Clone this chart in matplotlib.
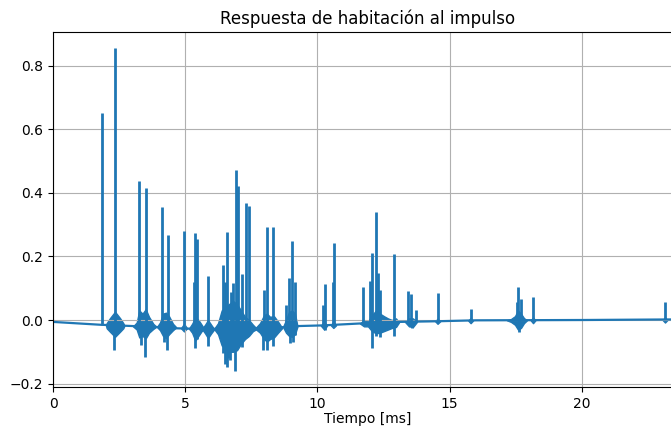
import numpy as np
import matplotlib
matplotlib.use('Agg')
import matplotlib.pyplot as plt

# deriva de la linea base (ms, amplitud)
base_t = [0, 1.8, 2.7, 3.9, 4.6, 5.5, 6.2, 7.7, 8.6, 9.3, 10.2, 11.6, 13.1, 14.5, 16.0, 20.0, 23.82]
base_v = [-0.006, -0.015, -0.018, -0.022, -0.026, -0.028, -0.028, -0.027, -0.023, -0.019, -0.017,
          -0.011, -0.006, -0.004, -0.001, 0.0, 0.002]

# picos positivos (reflexiones)
spike_t = [1.864, 2.344, 3.263, 3.505, 4.110, 4.337, 4.953, 5.342, 5.380, 5.456, 5.860,
           6.427, 6.503, 6.590, 6.730, 6.817, 6.907, 7.006, 7.157, 7.297, 7.410,
           7.977, 8.079, 8.329, 8.820, 8.911, 9.025, 9.149,
           10.219, 10.284, 10.575, 10.635, 11.739, 12.004, 12.068, 12.212, 12.299, 12.382,
           12.892, 13.433, 13.554, 13.713, 14.544, 15.792, 17.554, 17.592, 17.682, 18.147, 23.138]
spike_v = [0.652, 0.857, 0.439, 0.417, 0.355, 0.267, 0.281, 0.120, 0.273, 0.254, 0.139,
           0.172, 0.120, 0.278, 0.089, 0.118, 0.472, 0.422, 0.144, 0.369, 0.360,
           0.094, 0.292, 0.292, 0.047, 0.131, 0.250, 0.120,
           0.048, 0.114, 0.119, 0.243, 0.104, 0.123, 0.210, 0.341, 0.149, 0.093,
           0.207, 0.091, 0.082, 0.030, 0.084, 0.034, 0.058, 0.105, 0.065, 0.071, 0.056]

# picos negativos
dip_t = [2.318, 3.316, 3.478, 4.197, 4.299, 5.380, 5.440, 5.872, 6.378, 6.439, 6.503, 6.567,
         6.628, 6.692, 6.756, 6.881, 7.134, 7.323, 7.928, 8.102, 8.306, 8.960, 9.085, 9.149,
         10.283, 12.049, 12.212, 12.363, 12.904, 13.561, 17.630]
dip_v = [-0.096, -0.079, -0.116, -0.068, -0.094, -0.088, -0.060, -0.082, -0.074, -0.105, -0.137, -0.147,
         -0.121, -0.126, -0.094, -0.160, -0.084, -0.053, -0.094, -0.094, -0.082, -0.071, -0.070, -0.047,
         -0.031, -0.089, -0.050, -0.053, -0.050, -0.024, -0.037]

# zonas de oscilacion alrededor de las reflexiones
blob_t = [
    [2.00, 2.03, 2.155, 2.344, 2.533, 2.658, 2.70],
    [3.025, 3.164, 3.263, 3.384, 3.505, 3.63, 3.792, 3.894],
    [3.93, 4.045, 4.159, 4.272, 4.386, 4.537, 4.65],
    [4.84, 4.953, 5.07],
    [5.14, 5.26, 5.38, 5.5, 5.62, 5.71],
    [5.63, 5.75, 5.86, 5.98, 6.09],
    [6.09, 6.24, 6.378, 6.503, 6.654, 6.805, 6.957, 7.108, 7.259, 7.41, 7.56, 7.713],
    [7.637, 7.826, 7.977, 8.09, 8.204, 8.355, 8.507, 8.658],
    [8.696, 8.81, 8.923, 9.036, 9.149, 9.244],
    [10.13, 10.25, 10.36],
    [10.51, 10.6, 10.7],
    [11.607, 11.758, 11.909, 12.06, 12.212, 12.363, 12.514, 12.665, 12.817, 12.968, 13.08],
    [13.308, 13.46, 13.61, 13.762],
    [14.45, 14.54, 14.64],
    [15.7, 15.79, 15.88],
    [17.164, 17.316, 17.467, 17.58, 17.694, 17.807, 17.921],
    [18.06, 18.15, 18.24],
    [23.05, 23.14, 23.23],
]
blob_lo = [
    [-0.016, -0.026, -0.037, -0.053, -0.037, -0.026, -0.018],
    [-0.020, -0.030, -0.055, -0.050, -0.058, -0.040, -0.028, -0.022],
    [-0.022, -0.032, -0.050, -0.057, -0.045, -0.032, -0.024],
    [-0.026, -0.036, -0.026],
    [-0.027, -0.040, -0.065, -0.050, -0.035, -0.028],
    [-0.028, -0.042, -0.057, -0.042, -0.030],
    [-0.028, -0.045, -0.080, -0.090, -0.100, -0.100, -0.095, -0.075, -0.060, -0.050, -0.035, -0.028],
    [-0.027, -0.040, -0.060, -0.068, -0.060, -0.055, -0.040, -0.026],
    [-0.022, -0.040, -0.050, -0.053, -0.045, -0.020],
    [-0.018, -0.030, -0.018],
    [-0.017, -0.025, -0.017],
    [-0.011, -0.020, -0.020, -0.035, -0.042, -0.040, -0.035, -0.030, -0.025, -0.022, -0.008],
    [-0.006, -0.020, -0.022, -0.006],
    [-0.004, -0.012, -0.004],
    [-0.002, -0.010, -0.002],
    [-0.001, -0.006, -0.015, -0.030, -0.025, -0.010, -0.001],
    [-0.001, -0.010, -0.001],
    [0.0, -0.008, 0.0],
]
blob_hi = [
    [-0.016, -0.010, 0.006, 0.026, 0.006, -0.010, -0.018],
    [-0.020, -0.008, 0.030, 0.020, 0.034, 0.010, -0.012, -0.020],
    [-0.022, -0.008, 0.020, 0.023, 0.012, -0.012, -0.022],
    [-0.026, -0.012, -0.026],
    [-0.027, -0.012, 0.008, 0.000, -0.015, -0.027],
    [-0.028, -0.015, 0.000, -0.015, -0.028],
    [-0.028, -0.010, 0.030, 0.040, 0.050, 0.060, 0.050, 0.030, 0.010, 0.000, -0.015, -0.028],
    [-0.027, -0.010, 0.015, 0.020, 0.010, 0.012, -0.005, -0.024],
    [-0.022, 0.000, 0.025, 0.030, 0.020, -0.020],
    [-0.018, -0.005, -0.018],
    [-0.017, -0.005, -0.017],
    [-0.011, 0.000, -0.005, 0.015, 0.030, 0.020, 0.012, 0.005, 0.000, 0.005, -0.008],
    [-0.006, 0.005, 0.005, -0.006],
    [-0.004, 0.004, -0.004],
    [-0.002, 0.006, -0.002],
    [-0.001, 0.003, 0.012, 0.030, 0.020, 0.006, -0.001],
    [-0.001, 0.008, -0.001],
    [0.0, 0.008, 0.0],
]

color = '#1f77b4'

fig = plt.figure(figsize=(6.71, 4.28), dpi=100)
ax = fig.add_axes([53 / 671, 41 / 428, 630 / 671, 355 / 428])

ax.plot(base_t, base_v, color=color, lw=1.6)
for bt, lo, hi in zip(blob_t, blob_lo, blob_hi):
    ax.fill_between(bt, lo, hi, color=color, lw=1.0)

spike_foot = np.interp(spike_t, base_t, base_v)
ax.vlines(spike_t, spike_foot, spike_v, color=color, lw=2.0)
dip_top = np.interp(dip_t, base_t, base_v)
ax.vlines(dip_t, dip_v, dip_top, color=color, lw=2.0)

ax.set_xlim(0, 23.82)
ax.set_ylim(-0.211, 0.907)
ax.grid(True)
ax.set_title('Respuesta de habitación al impulso')
ax.set_xlabel('Tiempo [ms]', labelpad=1)

fig.savefig('out.png', dpi=100)
